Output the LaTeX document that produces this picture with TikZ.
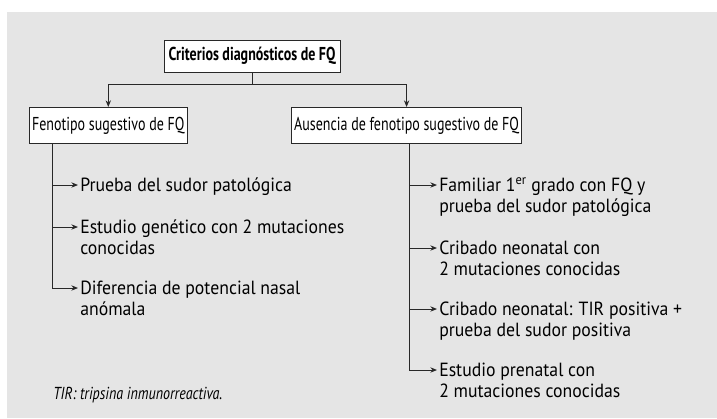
\documentclass[tikz,border=0pt]{standalone}
\usepackage{fontspec}
\setmainfont{PT Sans}[FakeStretch=0.93]
\newfontfamily\boxfont{PT Sans}[FakeStretch=0.75]
\newfontfamily\notefont{PT Sans}[FakeStretch=0.81]
\usetikzlibrary{arrows.meta, positioning}
\definecolor{panelgray}{RGB}{229,229,229}
\definecolor{linegray}{RGB}{40,40,40}

\begin{document}
\begin{tikzpicture}[x=0.75pt, y=-0.75pt,
    box/.style={draw=linegray, fill=white, line width=0.7pt, inner xsep=2pt, minimum height=27pt, font=\boxfont\fontsize{14}{16}\selectfont},
    item/.style={anchor=north west, inner xsep=1.5pt, inner ysep=0pt, align=left, font=\fontsize{14.3}{15.5}\selectfont, yshift=6.3pt},
    arr/.style={-{Stealth[length=5pt, width=4pt]}, line width=0.7pt, draw=linegray}]

    % Panel
    \useasboundingbox (0,0) rectangle (717,418);
    \fill[panelgray] (7,12) rectangle (717,418);

    % Boxes
    \node[box, minimum height=24pt, minimum width=132pt, font=\boxfont\fontsize{14}{16}\selectfont\bfseries] (crit) at (252,56) {Criterios diagnósticos de FQ};
    \node[box, anchor=north west, minimum width=114pt] (feno) at (29,107) {Fenotipo sugestivo de FQ};
    \node[box, anchor=north west, minimum width=167pt] (ause) at (291,107) {Ausencia de fenotipo sugestivo de FQ};

    % Split
    \coordinate (split) at (252,84);
    \draw[line width=0.7pt, linegray] (crit.south) -- (split);
    \draw[arr] (split) -| (feno.north);
    \draw[arr] (split) -| (ause.north);

    % Left branch
    \coordinate (lstem) at (52,0);
    \foreach \y/\txt [count=\i] in {185/{Prueba del sudor patológica},
        227/{Estudio genético con 2 mutaciones\\conocidas},
        288/{Diferencia de potencial nasal\\anómala}}
    {
        \coordinate (la\i) at (52,\y);
        \node[item] (l\i) at (78,\y) {\strut\txt};
        \draw[arr] (la\i) -- (l\i.west |- la\i);
    }
    \draw[line width=0.7pt, linegray] (feno.south -| lstem) -- (la3);

    % Right branch
    \coordinate (rstem) at (409,0);
    \foreach \y/\txt [count=\i] in {185/{Familiar 1\textsuperscript{er} grado con FQ y\\prueba del sudor patológica},
        248/{Cribado neonatal con\\2 mutaciones conocidas},
        309/{Cribado neonatal: TIR positiva +\\prueba del sudor positiva},
        370/{Estudio prenatal con\\2 mutaciones conocidas}}
    {
        \coordinate (ra\i) at (409,\y);
        \node[item] (r\i) at (437,\y) {\strut\txt};
        \draw[arr] (ra\i) -- (r\i.west |- ra\i);
    }
    \draw[line width=0.7pt, linegray] (ause.south -| rstem) -- (ra4);

    % Note
    \node[anchor=west, inner sep=0pt, font=\notefont\fontsize{13}{15}\selectfont\itshape] (nota) at (53,395) {TIR: tripsina inmunorreactiva.};
\end{tikzpicture}
\end{document}
